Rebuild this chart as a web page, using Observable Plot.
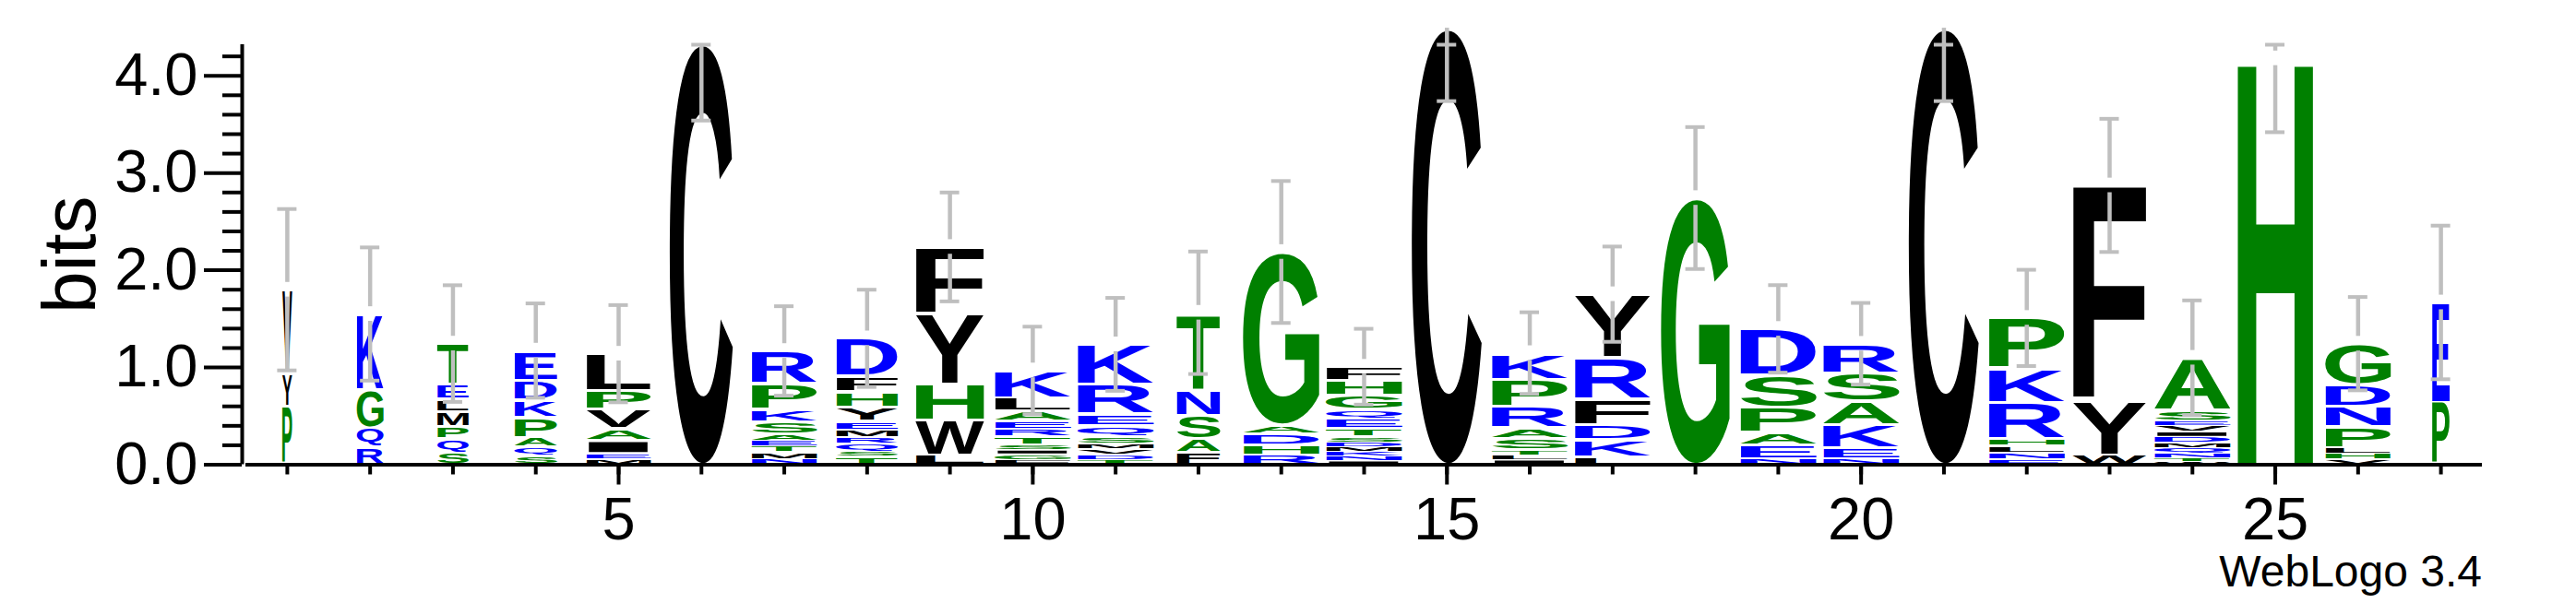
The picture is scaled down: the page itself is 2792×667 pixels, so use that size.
<!DOCTYPE html>
<html>
<head>
<meta charset="utf-8">
<script src="https://cdn.jsdelivr.net/npm/d3@7"></script>
<script src="https://cdn.jsdelivr.net/npm/@observablehq/plot@0.6"></script>
<style>
  html, body { margin: 0; padding: 0; background: #fff; }
  #wrap { position: relative; width: 2792px; height: 667px; background: #fff; }
  #caption { position: absolute; right: 102px; top: 596px; font: 48px "Liberation Sans", Arial, sans-serif; line-height: 48px; color: #000; white-space: nowrap; }
</style>
</head>
<body>
<div id="wrap"><div id="caption">WebLogo 3.4</div></div>
<script>
// ---- data (letters listed bottom -> top, tops in bits) ----
const stackLetters = [
  "PYV", "RQGK", "SQPMLET", "SQAPKDE", "MEIAVPL", "C", "NMTEASKPR", "TSQRMEYHFD",
  "LWHYF", "FGISTREALK", "TDVMSQERK", "FASNT", "RHDAG", "INKMDSTEQGHF", "C",
  "ILTSARPK", "LKDFRY", "G", "NEAPSD", "NEKASR", "C", "ENLHRKP", "WYF",
  "WTNQMDIVESA", "H", "VHLPNDG", "PE"
];
const stackTops = [
  [0.60, 0.94, 1.80],
  [0.18, 0.38, 0.77, 1.55],
  [0.125, 0.264, 0.395, 0.544, 0.676, 0.824, 1.246],
  [0.09, 0.185, 0.28, 0.488, 0.67, 0.87, 1.174],
  [0.057, 0.115, 0.25, 0.37, 0.568, 0.76, 1.142],
  [4.33],
  [0.06, 0.13, 0.19, 0.25, 0.31, 0.44, 0.57, 0.84, 1.17],
  [0.085, 0.14, 0.22, 0.28, 0.36, 0.45, 0.59, 0.75, 0.91, 1.30],
  [0.10, 0.46, 0.83, 1.55, 2.24],
  [0.05, 0.11, 0.15, 0.20, 0.29, 0.37, 0.45, 0.55, 0.69, 0.97],
  [0.05, 0.105, 0.163, 0.22, 0.29, 0.40, 0.52, 0.83, 1.238],
  [0.128, 0.265, 0.504, 0.775, 1.563],
  [0.096, 0.20, 0.313, 0.408, 2.188],
  [0.04, 0.09, 0.137, 0.185, 0.233, 0.287, 0.376, 0.472, 0.568, 0.711, 0.861, 1.008],
  [4.49],
  [0.05, 0.10, 0.15, 0.27, 0.38, 0.60, 0.88, 1.148],
  [0.08, 0.26, 0.41, 0.68, 1.10, 1.754],
  [2.743],
  [0.06, 0.20, 0.33, 0.59, 0.92, 1.397],
  [0.06, 0.17, 0.41, 0.65, 0.94, 1.244],
  [4.49],
  [0.053, 0.126, 0.195, 0.265, 0.635, 0.989, 1.51],
  [0.10, 0.655, 2.873],
  [0.03, 0.07, 0.12, 0.175, 0.23, 0.29, 0.34, 0.40, 0.45, 0.56, 1.10],
  [4.18],
  [0.053, 0.114, 0.175, 0.39, 0.602, 0.826, 1.245],
  [0.643, 1.669]
];
// relative stack width (fraction of sequences present at the position)
const stackWidths = [0.13, 0.35, 0.41, 0.56, 0.85, 0.83, 0.86, 0.81, 0.90, 1.0, 1.0, 0.57, 1.0, 1.0,
  0.92, 1.0, 1.0, 0.90, 1.0, 1.0, 0.92, 1.0, 0.97, 1.0, 1.0, 0.86, 0.23];
// error bar half-lengths (bits)
const errors = [0.83, 0.685, 0.60, 0.485, 0.50, 0.79, 0.46, 0.50, 0.56, 0.45, 0.478, 0.63, 0.73, 0.39,
  0.75, 0.42, 0.49, 0.73, 0.45, 0.42, 0.75, 0.495, 0.685, 0.59, 0.76, 0.48, 0.79];
const yTicks = [0, 1, 2, 3, 4];
const yMinorTicks = [0.2, 0.4, 0.6, 0.8, 1.2, 1.4, 1.6, 1.8, 2.2, 2.4, 2.6, 2.8, 3.2, 3.4, 3.6, 3.8, 4.2];
const xTicks = [5, 10, 15, 20, 25];
const groupNames = ["hydrophilic", "neutral", "hydrophobic"];
const groupLetters = ["RKDENQ", "SGHTAP", "YVMCLFIW"];
const groupColors = ["#0000ff", "#008000", "#000000"];
const MAXBITS = 4.32;

// ---- build rows ----
const groupOf = (c) => groupNames[groupLetters.findIndex((s) => s.includes(c))];
const letterRows = [];
stackLetters.forEach((s, i) => {
  let base = 0;
  [...s].forEach((c, j) => {
    const top = stackTops[i][j];
    letterRows.push({pos: i + 1, letter: c, y1: base, y2: top, width: stackWidths[i], group: groupOf(c)});
    base = top;
  });
});
const GAP = 0.075;
const errSegs = [], errCaps = [];
stackTops.forEach((t, i) => {
  const pos = i + 1, mid = t[t.length - 1];
  const lo = Math.max(0, mid - errors[i]), hi = Math.min(MAXBITS, mid + errors[i]);
  if (hi <= mid + GAP) {
    errSegs.push({pos, y1: lo, y2: Math.max(mid, hi)});
  } else {
    errSegs.push({pos, y1: lo, y2: mid - GAP});
    errSegs.push({pos, y1: mid + GAP, y2: hi});
  }
  errCaps.push({pos, y: lo});
  errCaps.push({pos, y: hi});
});

const FULL = 0.925;   // full stack width in position units
const CAP = 0.117;    // half width of error-bar caps
const LETTER_FONT = '"Liberation Sans", Arial, sans-serif';
const measureCtx = document.createElement("canvas").getContext("2d");
measureCtx.font = 'bold 100px "Liberation Sans", Arial, sans-serif';

function fitLetters(index, scales, values, dimensions, context, next) {
  const g = next(index, scales, values, dimensions, context);
  const texts = g.querySelectorAll("text");
  texts.forEach((t, k) => {
    const d = letterRows[index[k]];
    const m = measureCtx.measureText(d.letter);
    const L = m.actualBoundingBoxLeft, R = m.actualBoundingBoxRight;
    const A = m.actualBoundingBoxAscent, D = m.actualBoundingBoxDescent;
    const hw = d.width * FULL / 2;
    const x0 = scales.x(d.pos - hw), x1 = scales.x(d.pos + hw);
    let yTop = scales.y(d.y2), yBot = scales.y(d.y1);
    const pad = Math.min(1.7, 0.15 * (yBot - yTop));
    yTop += pad; yBot -= pad;
    const sx = (x1 - x0) / (L + R), sy = (yBot - yTop) / (A + D);
    t.setAttribute("transform", `translate(${x0 + L * sx},${yTop + A * sy}) scale(${sx},${sy})`);
    t.setAttribute("y", "0");
    t.setAttribute("text-anchor", "start");
  });
  return g;
}

const chart = Plot.plot({
  width: 2792,
  height: 600,
  marginLeft: 266,
  marginRight: 102,
  marginTop: 48,
  marginBottom: 96.5,
  style: {fontFamily: LETTER_FONT, background: "white", overflow: "visible", color: "black"},
  x: {domain: [0.5, 27.5], axis: null, label: null},
  y: {domain: [0, MAXBITS], axis: null, label: null},
  color: {domain: groupNames, range: groupColors},
  marks: [
    Plot.text(letterRows, {
      x: "pos", y: "y1", text: "letter", fill: "group",
      fontSize: 100, fontWeight: "bold", fontFamily: LETTER_FONT,
      render: fitLetters
    }),
    Plot.ruleX(errSegs, {x: "pos", y1: "y1", y2: "y2", stroke: "#bfbfbf", strokeWidth: 4.5}),
    Plot.ruleY(errCaps, {y: "y", x1: (d) => d.pos - CAP, x2: (d) => d.pos + CAP, stroke: "#bfbfbf", strokeWidth: 4}),
    // axes
    Plot.ruleY([0], {x1: 0.5, x2: 27.5, stroke: "black", strokeWidth: 4}),
    Plot.ruleX([0.5], {y1: 0, y2: MAXBITS, stroke: "black", strokeWidth: 4, dx: -4}),
    Plot.axisY({ticks: yMinorTicks, tickSize: 21, tickFormat: () => "", strokeWidth: 4, dx: -4, label: null}),
    Plot.axisY({ticks: yTicks, tickSize: 41, tickPadding: 7, tickFormat: d3.format(".1f"), fontSize: 65, strokeWidth: 4, dx: -4, label: null}),
    Plot.axisX({ticks: d3.range(1, 28), tickSize: 11, tickFormat: () => "", strokeWidth: 4, label: null}),
    Plot.axisX({ticks: xTicks, tickSize: 22, tickPadding: 13, fontSize: 65, strokeWidth: 4, label: null}),
    Plot.text(["bits"], {frameAnchor: "left", text: (d) => d, rotate: -90, textAnchor: "middle", dx: -190, fontSize: 82, fill: "black"})
  ]
});
document.getElementById("wrap").prepend(chart);
</script>
</body>
</html>
